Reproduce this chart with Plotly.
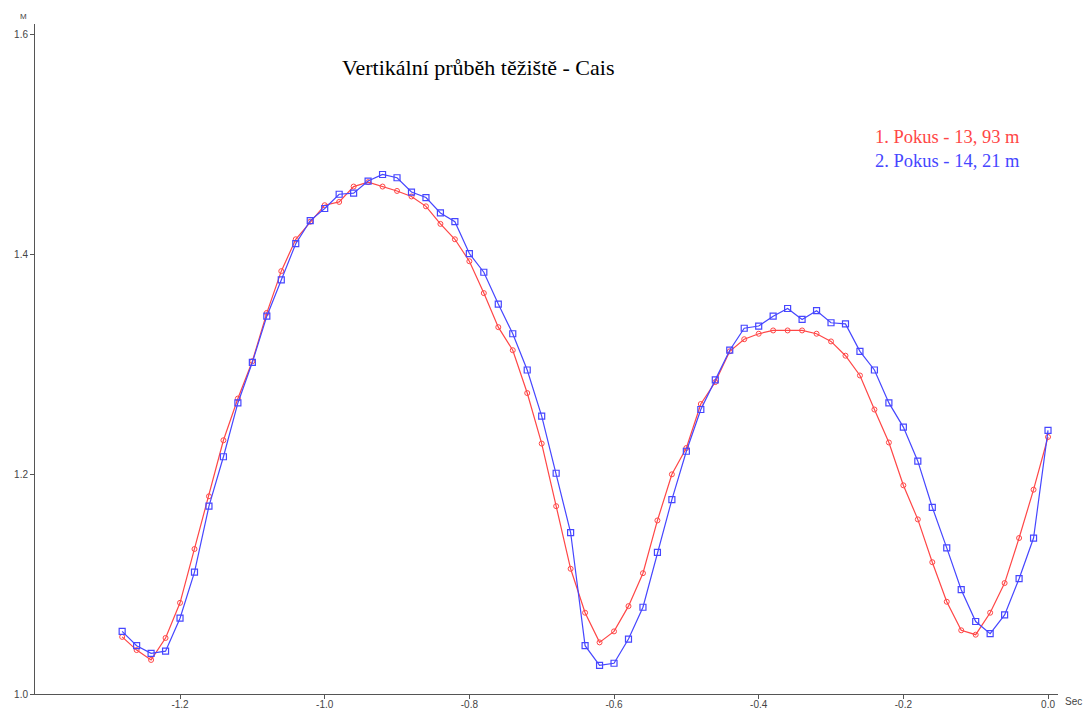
import plotly.graph_objects as go

time_s = [-1.28, -1.26, -1.24, -1.22, -1.20, -1.18, -1.16, -1.14, -1.12, -1.10,
          -1.08, -1.06, -1.04, -1.02, -1.00, -0.98, -0.96, -0.94, -0.92, -0.90,
          -0.88, -0.86, -0.84, -0.82, -0.80, -0.78, -0.76, -0.74, -0.72, -0.70,
          -0.68, -0.66, -0.64, -0.62, -0.60, -0.58, -0.56, -0.54, -0.52, -0.50,
          -0.48, -0.46, -0.44, -0.42, -0.40, -0.38, -0.36, -0.34, -0.32, -0.30,
          -0.28, -0.26, -0.24, -0.22, -0.20, -0.18, -0.16, -0.14, -0.12, -0.10,
          -0.08, -0.06, -0.04, -0.02, 0.00]

pokus1 = [1.052, 1.040, 1.031, 1.051, 1.083, 1.132, 1.180, 1.231, 1.269, 1.303,
          1.347, 1.385, 1.414, 1.430, 1.445, 1.448, 1.462, 1.466, 1.462, 1.458,
          1.453, 1.444, 1.428, 1.414, 1.394, 1.365, 1.334, 1.313, 1.274, 1.228,
          1.171, 1.114, 1.074, 1.047, 1.057, 1.080, 1.110, 1.158, 1.200, 1.224,
          1.264, 1.284, 1.312, 1.323, 1.328, 1.331, 1.331, 1.331, 1.328, 1.321,
          1.308, 1.290, 1.259, 1.229, 1.190, 1.159, 1.120, 1.084, 1.058, 1.054,
          1.074, 1.101, 1.142, 1.186, 1.234]

pokus2 = [1.057, 1.044, 1.037, 1.039, 1.069, 1.111, 1.171, 1.216, 1.265, 1.302,
          1.344, 1.377, 1.410, 1.431, 1.442, 1.455, 1.456, 1.467, 1.473, 1.470,
          1.457, 1.452, 1.438, 1.430, 1.401, 1.384, 1.355, 1.328, 1.295, 1.253,
          1.201, 1.147, 1.044, 1.026, 1.028, 1.050, 1.079, 1.129, 1.177, 1.221,
          1.259, 1.286, 1.313, 1.333, 1.335, 1.344, 1.351, 1.341, 1.349, 1.338,
          1.337, 1.312, 1.295, 1.265, 1.243, 1.212, 1.170, 1.133, 1.095, 1.066,
          1.055, 1.072, 1.105, 1.142, 1.240]

x_ticks = [-1.2, -1.0, -0.8, -0.6, -0.4, -0.2, 0.0]
x_tick_labels = ["-1.2", "-1.0", "-0.8", "-0.6", "-0.4", "-0.2", "0.0"]
y_ticks = [1.0, 1.2, 1.4, 1.6]
y_tick_labels = ["1.0", "1.2", "1.4", "1.6"]

series_names = ["1. Pokus - 13, 93 m", "2. Pokus - 14, 21 m"]
red = "#ff4646"
blue = "#4646ff"

fig = go.Figure()
fig.add_trace(go.Scatter(
    x=time_s, y=pokus1, mode="lines+markers", name=series_names[0],
    line=dict(color=red, width=1.2),
    marker=dict(symbol="circle-open", size=5, color=red, line=dict(width=1, color=red)),
))
fig.add_trace(go.Scatter(
    x=time_s, y=pokus2, mode="lines+markers", name=series_names[1],
    line=dict(color=blue, width=1.2),
    marker=dict(symbol="square-open", size=6, color=blue, line=dict(width=1.2, color=blue)),
))

axis_font = dict(family="Liberation Sans, Arial, sans-serif", size=10, color="#444")

W, H = 1088, 709
l, r, t, b = 35, 30, 24, 15
pw, ph = W - l - r, H - t - b

fig.update_layout(
    width=W, height=H,
    margin=dict(l=l, r=r, t=t, b=b),
    paper_bgcolor="white", plot_bgcolor="white",
    showlegend=False,
    xaxis=dict(
        range=[-1.4005, 0.0138], tickvals=x_ticks, ticktext=x_tick_labels,
        showgrid=False, zeroline=False, showline=True, linecolor="#555", linewidth=1,
        ticks="outside", ticklen=4, tickcolor="#555", tickfont=axis_font,
        ticklabelstandoff=-3, automargin=False,
    ),
    yaxis=dict(
        range=[1.0, 1.61], tickvals=y_ticks, ticktext=y_tick_labels,
        showgrid=False, zeroline=False, showline=True, linecolor="#555", linewidth=1,
        ticks="outside", ticklen=4, tickcolor="#555", tickfont=axis_font,
        automargin=False,
    ),
)


def px(xp):
    return (xp - l) / pw


def py(yp):
    return (H - b - yp) / ph


serif = "Liberation Serif, Times New Roman, serif"
fig.add_annotation(text="Vertikální průběh těžiště - Cais", x=px(478), y=py(67),
                   xref="paper", yref="paper", showarrow=False, xanchor="center", yanchor="middle",
                   font=dict(family=serif, size=22, color="black"))
fig.add_annotation(text=series_names[0], x=px(873), y=py(137), xref="paper", yref="paper",
                   showarrow=False, xanchor="left", yanchor="middle",
                   font=dict(family=serif, size=18.5, color=red))
fig.add_annotation(text=series_names[1], x=px(873), y=py(161), xref="paper", yref="paper",
                   showarrow=False, xanchor="left", yanchor="middle",
                   font=dict(family=serif, size=18.5, color=blue))
fig.add_annotation(text="M", x=px(23), y=py(16), xref="paper", yref="paper",
                   showarrow=False, xanchor="center", yanchor="middle",
                   font=dict(family="Liberation Sans, Arial, sans-serif", size=8, color="#444"))
fig.add_annotation(text="Sec", x=px(1063), y=py(701), xref="paper", yref="paper",
                   showarrow=False, xanchor="left", yanchor="middle",
                   font=dict(family="Liberation Sans, Arial, sans-serif", size=10, color="#444"))

fig.write_html("out.html", config={"displayModeBar": False},
               post_script="document.body.style.margin='0';document.body.style.overflow='hidden';")
